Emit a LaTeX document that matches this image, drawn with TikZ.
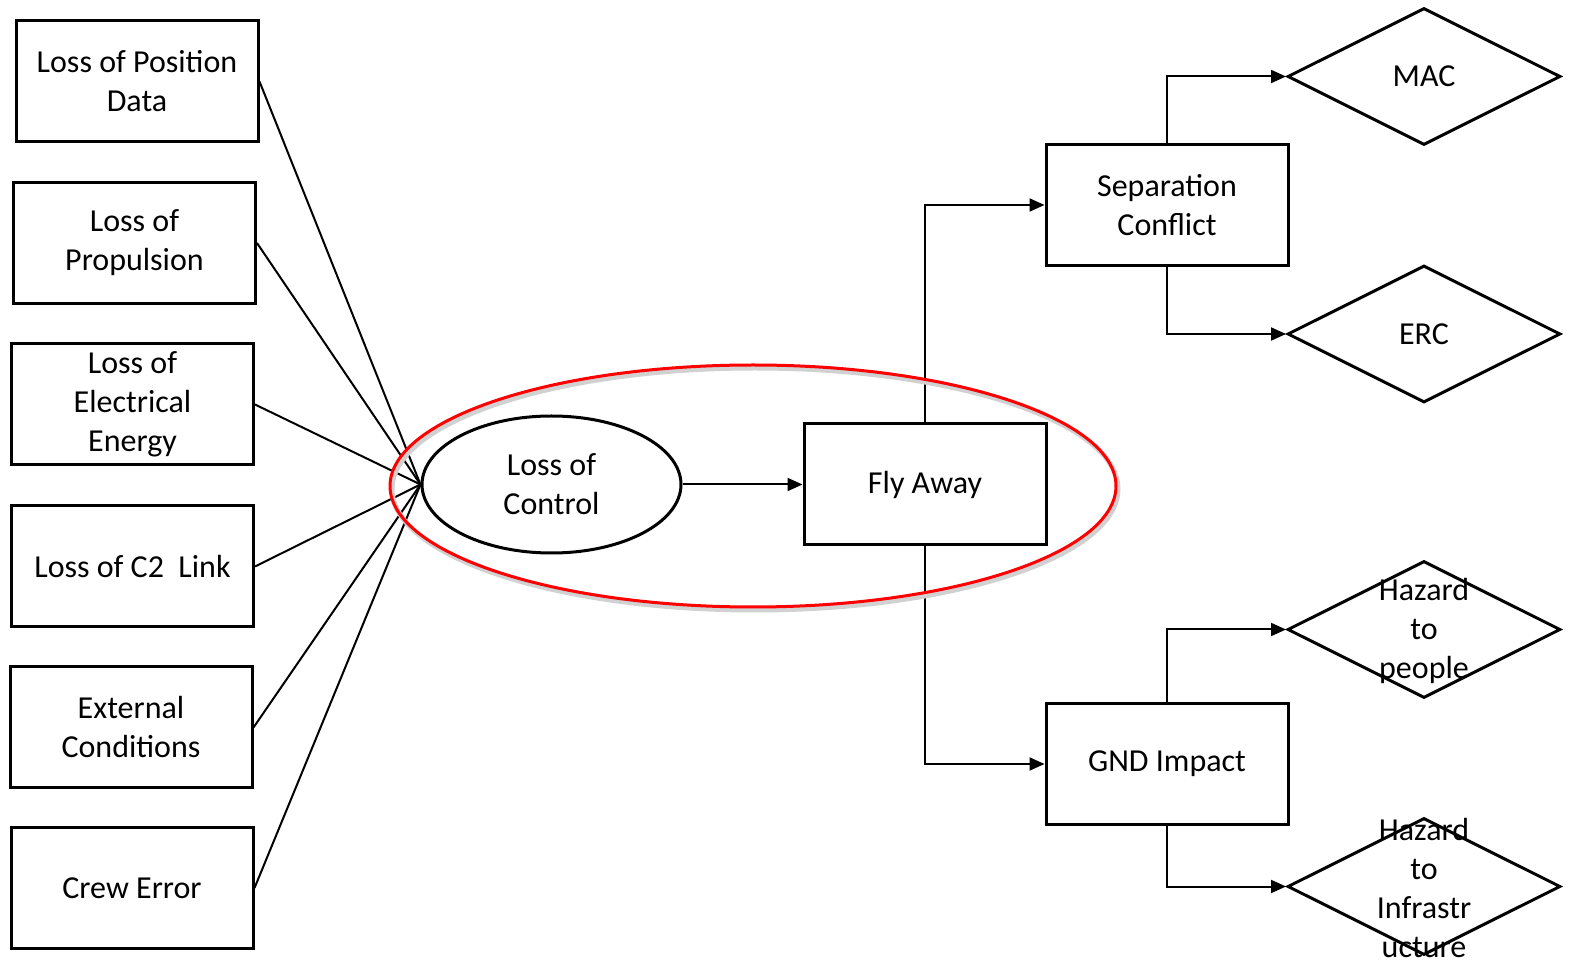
\documentclass[tikz,border=0pt]{standalone}
\usepackage{fontspec}
\setmainfont{Carlito}
\usetikzlibrary{shapes.geometric,arrows.meta}
\begin{document}
\begin{tikzpicture}[x=0.5pt,y=-0.5pt,
  txt/.style={font=\fontsize{16}{19.5}\selectfont, align=center},
  boxnode/.style={txt, draw, line width=1.5pt, minimum width=121pt, minimum height=60.5pt, inner sep=0pt},
  dia/.style={draw, diamond, line width=1.5pt, minimum width=136.5pt, minimum height=68.5pt, inner sep=0pt},
  fan/.style={line width=1pt},
  arr/.style={line width=1pt, -{Triangle[length=7.5pt,width=6.5pt]}}
]
\useasboundingbox (0,0) rectangle (1571,962);
% left causes
\node[boxnode] (b1) at (137,81.5) {Loss of Position\\Data};
\node[boxnode] (b2) at (134.5,243) {Loss of\\Propulsion};
\node[boxnode] (b3) at (132.5,404.5) {Loss of\\Electrical\\Energy};
\node[boxnode] (b4) at (132.5,566.5) {Loss of C2\ \ Link};
\node[boxnode] (b5) at (131,727.5) {External\\Conditions};
\node[boxnode] (b6) at (132,888) {Crew Error};
% central
\node[txt, draw, ellipse, line width=1.5pt, minimum width=129.5pt, minimum height=68.5pt, inner sep=0pt] (loc) at (551.5,484.5) {Loss of\\Control};
\node[boxnode] (fly) at (925,484.5) {Fly Away};
\node[boxnode] (sep) at (1167,205) {Separation\\Conflict};
\node[boxnode] (gnd) at (1167,764) {GND Impact};
% diamonds
\node[dia] (mac) at (1424,76.5) {};
\node[dia] (erc) at (1424,334) {};
\node[dia] (hp) at (1424,629.5) {};
\node[dia] (hi) at (1424,886.5) {};
\node[txt] (macT) at (mac.center) {MAC};
\node[txt] (ercT) at (erc.center) {ERC};
\node[txt] (hpT) at (1424,631) {Hazard\\to\\people};
\node[txt] (hiT) at (1424,888.5) {Hazard\\to\\Infrastr\\ucture};
% fan-in lines
\foreach \b in {b1,b2,b3,b4,b5,b6} \draw[fan] (\b.east) -- (loc.west);
% arrows
\draw[arr] (loc.east) -- (fly.west);
\draw[arr] (fly.north) |- (sep.west);
\draw[arr] (fly.south) |- (gnd.west);
\draw[arr] (sep.north) |- (mac.west);
\draw[arr] (sep.south) |- (erc.west);
\draw[arr] (gnd.north) |- (hp.west);
\draw[arr] (gnd.south) |- (hi.west);
% highlight ellipse with faint shadow
\draw[black!18, line width=2.5pt] (755,489) ellipse [x radius=181.5pt, y radius=60.5pt];
\draw[red, line width=1.5pt] (753,486) ellipse [x radius=181.5pt, y radius=60.5pt];
\end{tikzpicture}
\end{document}
